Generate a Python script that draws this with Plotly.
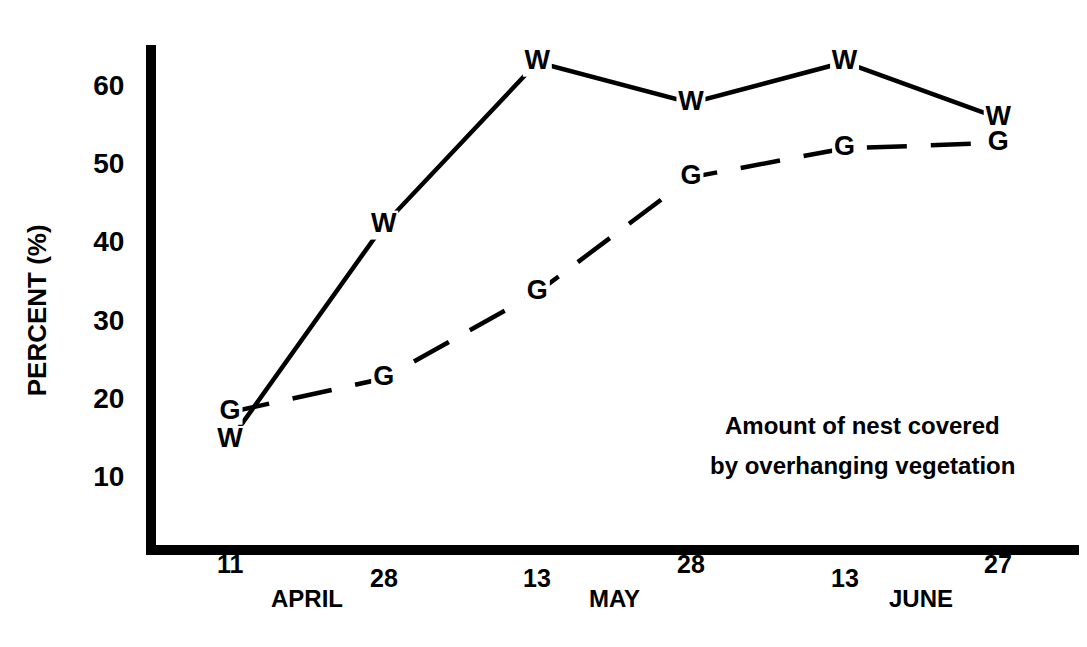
import plotly.graph_objects as go

dates = ["11", "28", "13", "28", "13", "27"]
months = ["APRIL", "MAY", "JUNE"]
w_values = [14.6, 42.1, 62.9, 57.7, 62.9, 55.8]
g_values = [18.2, 22.5, 33.5, 48.2, 51.9, 52.6]
y_ticks = [10, 20, 30, 40, 50, 60]
note_lines = ["Amount of nest covered", "by overhanging vegetation"]

x = list(range(len(dates)))
FONT = "Liberation Sans"

fig = go.Figure()
fig.add_trace(go.Scatter(
    x=x, y=w_values, mode="lines+markers+text",
    text=["<b>W</b>"] * len(x), textposition="middle center",
    textfont=dict(family=FONT, size=27, color="black"),
    line=dict(color="black", width=4.5),
    marker=dict(symbol="square", size=29, color="white", line=dict(width=0)),
    showlegend=False, cliponaxis=False,
))
fig.add_trace(go.Scatter(
    x=x, y=g_values, mode="lines+markers+text",
    text=["<b>G</b>"] * len(x), textposition="middle center",
    textfont=dict(family=FONT, size=27, color="black"),
    line=dict(color="black", width=4.5, dash="40px,24px"),
    marker=dict(symbol="square", size=25, color="white", line=dict(width=0)),
    showlegend=False, cliponaxis=False,
))

annotations = []
# staggered date labels
for i, d in enumerate(dates):
    shift = -19 if i in (0, 3, 5) else -33
    annotations.append(dict(
        x=i, y=0, xref="x", yref="paper", yshift=shift, yanchor="middle",
        xanchor="center", text=f"<b>{d}</b>", showarrow=False,
        font=dict(family=FONT, size=25, color="black")))
# month labels centred between paired dates
for k, m in enumerate(months):
    annotations.append(dict(
        x=(2 * k + 2 * k + 1) / 2, y=0, xref="x", yref="paper", yshift=-53,
        yanchor="middle", xanchor="center", text=f"<b>{m}</b>",
        showarrow=False, font=dict(family=FONT, size=24, color="black")))
# y axis title
annotations.append(dict(
    x=-0.127, y=0.469, xref="paper", yref="paper", textangle=-90,
    xanchor="center", yanchor="middle",
    text="<b>PERCENT (%)</b>", showarrow=False,
    font=dict(family=FONT, size=26, color="black")))
# note text
for j, line in enumerate(note_lines):
    annotations.append(dict(
        x=0.752, y=16.5 - 5.1 * j, xref="paper", yref="y",
        xanchor="center", yanchor="middle",
        text=f"<b>{line}</b>", showarrow=False,
        font=dict(family=FONT, size=24, color="black")))

fig.update_layout(
    width=1087, height=647,
    margin=dict(l=148, r=0, t=37, b=110),
    paper_bgcolor="white", plot_bgcolor="white",
    annotations=annotations,
    xaxis=dict(range=[-0.482, 5.63], showgrid=False, zeroline=False,
               showticklabels=False, ticks="",
               showline=True, linecolor="black", linewidth=10),
    yaxis=dict(range=[1.24, 65.1], showgrid=False, zeroline=False,
               tickvals=y_ticks, ticktext=[f"<b>{v}</b>" for v in y_ticks],
               tickfont=dict(family=FONT, size=28, color="black"),
               ticks="", ticklabelstandoff=16,
               showline=True, linecolor="black", linewidth=10),
)

fig.write_html("out.html")
